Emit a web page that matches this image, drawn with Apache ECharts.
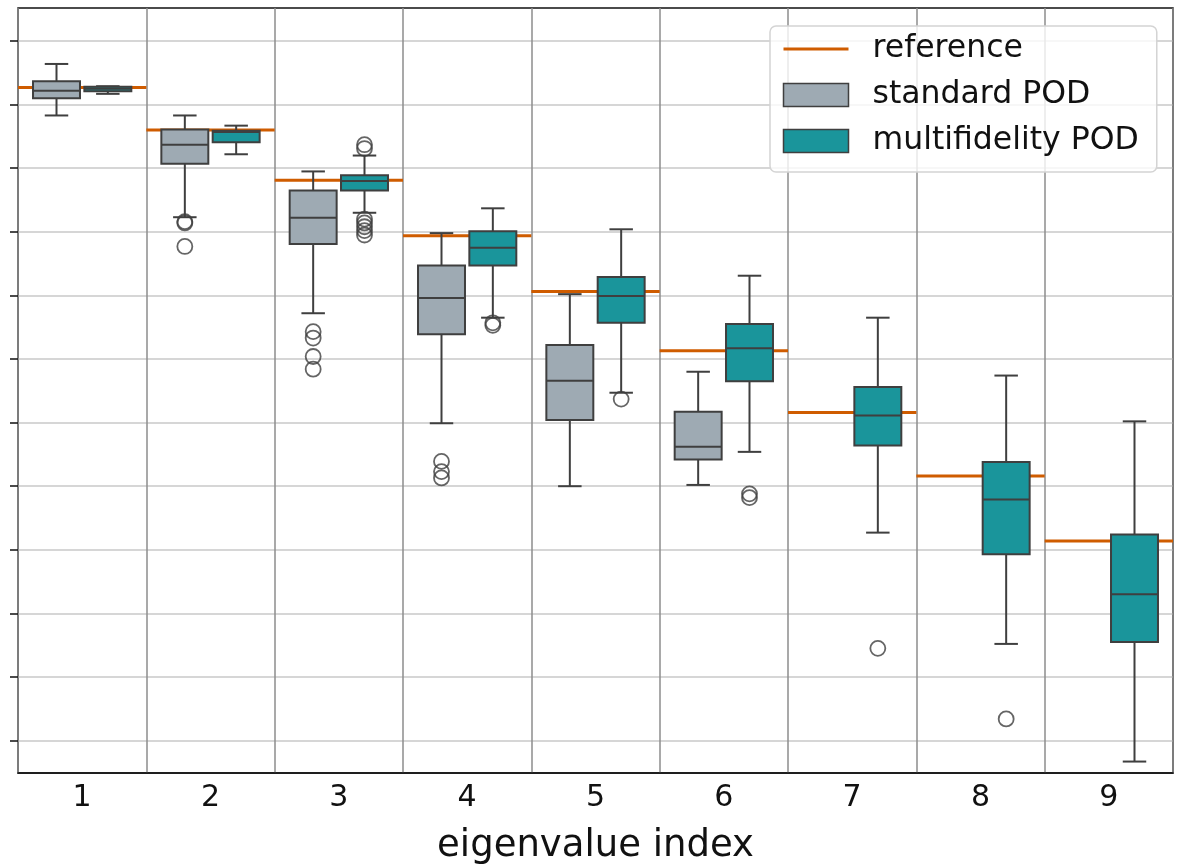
<!DOCTYPE html>
<html>
<head>
<meta charset="utf-8">
<script src="https://cdn.jsdelivr.net/npm/echarts@6/dist/echarts.min.js"></script>
<style>
  html, body { margin: 0; padding: 0; background: #ffffff; }
  #chart { width: 1186px; height: 866px; }
</style>
</head>
<body>
<div id="chart"></div>
<script>
// Eigenvalue index on the x axis
const categories = ['1', '2', '3', '4', '5', '6', '7', '8', '9'];
// y ticks (log-scale decades, one unit per tick, labels hidden)
const yTicks = [0, 1, 2, 3, 4, 5, 6, 7, 8, 9, 10, 11];

// Reference eigenvalues
const referenceValues = [10.27, 9.60, 8.81, 7.94, 7.06, 6.13, 5.16, 4.16, 3.14];

// Box statistics per index: [whisker low, Q1, median, Q3, whisker high]
const standardPOD = [
  [9.83, 10.10, 10.22, 10.37, 10.64],
  [8.23, 9.07, 9.37, 9.61, 9.83],
  [6.72, 7.81, 8.22, 8.65, 8.95],
  [4.99, 6.39, 6.96, 7.47, 7.98],
  [4.00, 5.04, 5.66, 6.22, 7.02],
  [4.02, 4.42, 4.62, 5.17, 5.80],
  null, null, null
];
const multifidelityPOD = [
  [10.17, 10.21, 10.25, 10.28, 10.29],
  [9.22, 9.41, 9.57, 9.59, 9.67],
  [8.30, 8.65, 8.80, 8.89, 9.20],
  [6.65, 7.47, 7.75, 8.01, 8.37],
  [5.47, 6.57, 6.99, 7.29, 8.04],
  [4.54, 5.65, 6.17, 6.55, 7.31],
  [3.27, 4.64, 5.11, 5.56, 6.65],
  [1.52, 2.93, 3.79, 4.38, 5.74],
  [-0.33, 1.55, 2.30, 3.24, 5.02]
];

// Outliers: [eigenvalue index, value]
const standardOutliers = [
  [2, 8.16], [2, 8.14], [2, 7.77],
  [3, 6.43], [3, 6.33], [3, 6.04], [3, 5.84],
  [4, 4.39], [4, 4.23], [4, 4.13]
];
const multifidelityOutliers = [
  [3, 9.37], [3, 9.31], [3, 8.20], [3, 8.14], [3, 8.08], [3, 8.02], [3, 7.95],
  [4, 6.57], [4, 6.53],
  [5, 5.37],
  [6, 3.88], [6, 3.82],
  [7, 1.45],
  [8, 0.34]
];

const GRAY = '#9eaab3';
const TEAL = '#1a959b';
const ORANGE = '#cf5c00';
const EDGE = '#3f3f3f';
const INK = '#111111';
const FONT = 'DejaVu Sans';
const DODGE = 0.2;      // horizontal offset of each group from the index centre
const BOX_W = 0.366;    // box width in index units

function boxData(stats, offset) {
  const out = [];
  stats.forEach((s, i) => {
    if (s) out.push([i + 1 + offset].concat(s));
  });
  return out;
}

function outlierData(list, offset) {
  return list.map(p => [p[0] + offset, p[1]]);
}

function referenceData() {
  const out = [];
  referenceValues.forEach((v, i) => {
    out.push([i + 0.5, v], [i + 1.5, v], ['-', '-']);
  });
  return out;
}

function renderBox(params, api) {
  const x = api.value(0);
  const pLo = api.coord([x, api.value(1)]);
  const pQ1 = api.coord([x, api.value(2)]);
  const pMed = api.coord([x, api.value(3)]);
  const pQ3 = api.coord([x, api.value(4)]);
  const pHi = api.coord([x, api.value(5)]);
  const w = api.size([BOX_W, 0])[0];
  const cap = w / 4;
  const cx = pQ1[0];
  const ls = { stroke: EDGE, lineWidth: 2 };
  return {
    type: 'group',
    children: [
      { type: 'line', shape: { x1: cx, y1: pQ3[1], x2: cx, y2: pHi[1] }, style: ls },
      { type: 'line', shape: { x1: cx, y1: pQ1[1], x2: cx, y2: pLo[1] }, style: ls },
      { type: 'line', shape: { x1: cx - cap, y1: pHi[1], x2: cx + cap, y2: pHi[1] }, style: ls },
      { type: 'line', shape: { x1: cx - cap, y1: pLo[1], x2: cx + cap, y2: pLo[1] }, style: ls },
      {
        type: 'rect',
        shape: { x: cx - w / 2, y: pQ3[1], width: w, height: pQ1[1] - pQ3[1] },
        style: { fill: api.visual('color'), stroke: EDGE, lineWidth: 2 }
      },
      { type: 'line', shape: { x1: cx - w / 2, y1: pMed[1], x2: cx + w / 2, y2: pMed[1] }, style: ls }
    ]
  };
}

const chart = echarts.init(document.getElementById('chart'), null, { renderer: 'canvas' });

chart.setOption({
  animation: false,
  backgroundColor: '#ffffff',
  textStyle: { fontFamily: FONT },
  grid: {
    left: 18, right: 13, top: 8, bottom: 93,
    show: true, borderColor: INK, borderWidth: 1.5,
    containLabel: false, outerBoundsMode: 'none'
  },
  legend: {
    data: [
      { name: 'reference', itemStyle: { opacity: 0 }, lineStyle: { color: ORANGE, width: 3 } },
      { name: 'standard POD', icon: 'rect', itemStyle: { color: GRAY, borderColor: EDGE, borderWidth: 1.5 } },
      { name: 'multifidelity POD', icon: 'rect', itemStyle: { color: TEAL, borderColor: EDGE, borderWidth: 1.5 } }
    ],
    orient: 'vertical',
    left: 770, top: 26,
    itemWidth: 65, itemHeight: 23, itemGap: 14,
    padding: [7, 18, 15, 12],
    backgroundColor: 'rgba(255,255,255,0.8)',
    borderColor: '#d4d4d4', borderWidth: 1.5, borderRadius: 6,
    selectedMode: false,
    textStyle: { fontSize: 31.5, color: INK, fontFamily: FONT, padding: [0, 0, 0, 19] }
  },
  xAxis: [
    {
      type: 'category',
      data: categories,
      boundaryGap: true,
      axisLine: { onZero: false, lineStyle: { color: INK, width: 1.5 } },
      axisTick: { alignWithLabel: true, length: 8, lineStyle: { color: INK, width: 1.5 } },
      axisLabel: { fontSize: 30, color: INK, margin: 10, fontFamily: FONT },
      splitLine: { show: true, lineStyle: { color: '#8c8c8c', width: 1.5 } },
      name: 'eigenvalue index',
      nameLocation: 'middle',
      nameGap: 55,
      nameTextStyle: { fontSize: 37, color: INK, fontFamily: FONT }
    },
    { type: 'value', min: 0.5, max: 9.5, show: false }
  ],
  yAxis: {
    type: 'value',
    min: -0.51, max: 11.52,
    axisLine: { show: false, onZero: false },
    axisTick: { show: true, customValues: yTicks, length: 8, lineStyle: { color: INK, width: 1.5 } },
    axisLabel: { show: false, customValues: yTicks },
    splitLine: { show: true, lineStyle: { color: '#c8c8c8', width: 1.5 } }
  },
  series: [
    {
      name: 'reference',
      type: 'line',
      xAxisIndex: 1,
      data: referenceData(),
      symbol: 'none',
      connectNulls: false,
      lineStyle: { color: ORANGE, width: 3 },
      itemStyle: { color: ORANGE },
      silent: true,
      z: 1
    },
    {
      name: 'standard POD',
      type: 'custom',
      xAxisIndex: 1,
      data: boxData(standardPOD, -DODGE),
      encode: { x: 0, y: [1, 2, 3, 4, 5] },
      itemStyle: { color: GRAY },
      renderItem: renderBox,
      z: 3
    },
    {
      name: 'multifidelity POD',
      type: 'custom',
      xAxisIndex: 1,
      data: boxData(multifidelityPOD, DODGE),
      encode: { x: 0, y: [1, 2, 3, 4, 5] },
      itemStyle: { color: TEAL },
      renderItem: renderBox,
      z: 3
    },
    {
      name: 'standard outliers',
      type: 'scatter',
      xAxisIndex: 1,
      data: outlierData(standardOutliers, -DODGE),
      symbol: 'circle',
      symbolSize: 15,
      itemStyle: { color: 'rgba(0,0,0,0)', borderColor: EDGE, borderWidth: 1.8 },
      silent: true,
      z: 4
    },
    {
      name: 'multifidelity outliers',
      type: 'scatter',
      xAxisIndex: 1,
      data: outlierData(multifidelityOutliers, DODGE),
      symbol: 'circle',
      symbolSize: 15,
      itemStyle: { color: 'rgba(0,0,0,0)', borderColor: EDGE, borderWidth: 1.8 },
      silent: true,
      z: 4
    }
  ]
});
</script>
</body>
</html>
